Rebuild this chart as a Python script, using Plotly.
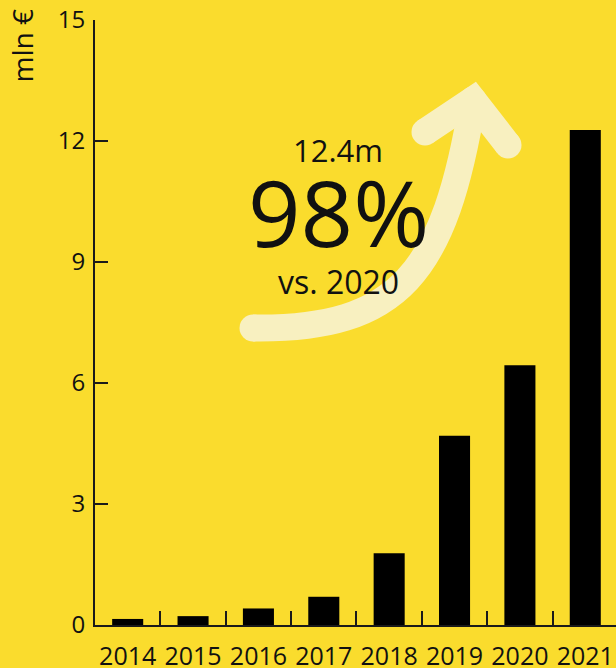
import plotly.graph_objects as go

years = ["2014", "2015", "2016", "2017", "2018", "2019", "2020", "2021"]
revenue = [0.15, 0.22, 0.41, 0.70, 1.78, 4.69, 6.44, 12.27]
y_ticks = [0, 3, 6, 9, 12, 15]

BG = "#FADC2D"
CREAM = "#F8F0C0"
INK = "#111111"
FONT = "Open Sans"

W, H = 616, 668
L, R, T, B = 95, 0, 20, 43
PW, PH = W - L - R, H - T - B


def px(x):
    return (x - L) / PW


def py(y):
    return (H - B - y) / PH


fig = go.Figure()
fig.add_trace(go.Bar(x=years, y=revenue, marker=dict(color="#000000", line=dict(width=0)),
                     width=0.475, hoverinfo="x+y"))

# arrow (decoration) in paper coords
sw = 27
p0, p1, p2, p3 = (253, 328), (400, 330), (445, 272), (473, 100)
la, ra = (425, 132), (508, 145)
shaft = "M {:.4f},{:.4f} C {:.4f},{:.4f} {:.4f},{:.4f} {:.4f},{:.4f}".format(
    px(p0[0]), py(p0[1]), px(p1[0]), py(p1[1]), px(p2[0]), py(p2[1]), px(p3[0]), py(p3[1]))
head = "M {:.4f},{:.4f} L {:.4f},{:.4f} L {:.4f},{:.4f}".format(
    px(la[0]), py(la[1]), px(p3[0]), py(p3[1]), px(ra[0]), py(ra[1]))
shapes = []
for path in (shaft, head):
    shapes.append(dict(type="path", xref="paper", yref="paper", path=path,
                       line=dict(color=CREAM, width=sw), layer="below"))
r = sw / 2
for (cx, cy) in (p0, p3, la, ra):
    shapes.append(dict(type="circle", xref="paper", yref="paper",
                       x0=px(cx - r), x1=px(cx + r), y0=py(cy + r), y1=py(cy - r),
                       fillcolor=CREAM, line=dict(width=0), layer="below"))

annotations = [
    dict(text="12.4m", x=px(338), y=py(150), xref="paper", yref="paper", showarrow=False,
         xanchor="center", yanchor="middle", font=dict(family=FONT, size=31, color=INK)),
    dict(text="98%", x=px(338), y=py(212), xref="paper", yref="paper", showarrow=False,
         xanchor="center", yanchor="middle", font=dict(family=FONT, size=92, color=INK)),
    dict(text="vs. 2020", x=px(338), y=py(281), xref="paper", yref="paper", showarrow=False,
         xanchor="center", yanchor="middle", font=dict(family=FONT, size=32, color=INK)),
    dict(text="mln €", x=px(22), y=py(8), xref="paper", yref="paper", showarrow=False,
         textangle=-90, xanchor="center", yanchor="top", font=dict(family=FONT, size=28, color=INK)),
]

fig.update_layout(
    width=W, height=H, margin=dict(l=L, r=R, t=T, b=B, pad=0, autoexpand=False),
    paper_bgcolor=BG, plot_bgcolor=BG, showlegend=False, bargap=0.5,
    shapes=shapes, annotations=annotations,
    font=dict(family=FONT, color=INK),
)
fig.update_xaxes(range=[-0.5, 7.47], showline=True, linecolor="#1a1a1a", linewidth=2,
                 ticks="inside", tickson="boundaries", ticklen=14, tickwidth=2, tickcolor="#1a1a1a",
                 showgrid=False, zeroline=False, tickfont=dict(family=FONT, size=25, color=INK),
                 tickangle=0, automargin=False, ticklabelstandoff=8)
fig.update_yaxes(range=[0, 15], tickvals=y_ticks, showline=True, linecolor="#1a1a1a", linewidth=2,
                 ticks="inside", ticklen=13, tickwidth=2, tickcolor="#1a1a1a",
                 showgrid=False, zeroline=False, tickfont=dict(family=FONT, size=24, color=INK),
                 automargin=False, ticklabelstandoff=3)

fig.write_html("out.html", config={"displayModeBar": False},
               post_script="document.body.style.margin='0';document.body.style.background='" + BG + "';")
